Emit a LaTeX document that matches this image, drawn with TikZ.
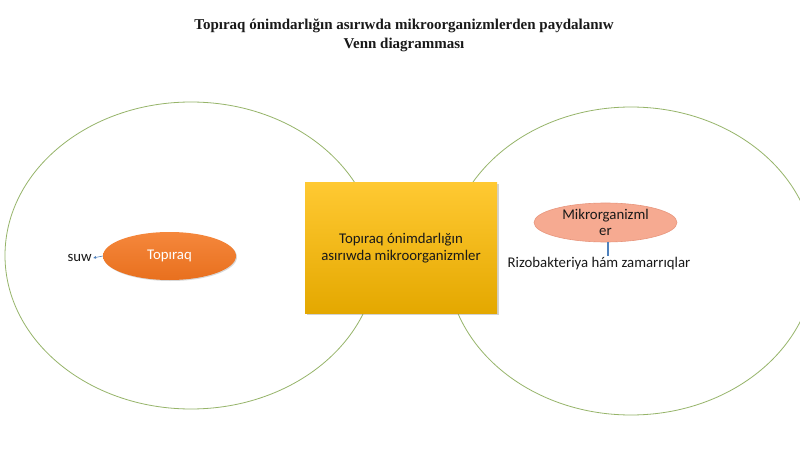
\documentclass[tikz,border=0pt]{standalone}
\usepackage{fontspec}
\setmainfont{Liberation Serif}
\newfontfamily\bodyfont{Carlito}
\usetikzlibrary{shapes.geometric,shadows,arrows.meta}
\definecolor{venn}{RGB}{150,180,105}
\definecolor{boxtop}{RGB}{255,201,50}
\definecolor{boxbot}{RGB}{228,168,0}
\definecolor{orangetop}{RGB}{245,135,60}
\definecolor{orangebot}{RGB}{232,112,30}
\definecolor{salmon}{RGB}{246,170,145}
\definecolor{salmonline}{RGB}{232,150,125}
\definecolor{linkblue}{RGB}{79,129,189}
\definecolor{ink}{RGB}{25,25,25}
\tikzset{
  vennset/.style={draw=venn, line width=0.8pt},
  titletext/.style={font=\fontsize{15}{18.5}\selectfont\bfseries, align=center, text=ink},
  bodytext/.style={font=\bodyfont\fontsize{14.8}{17}\selectfont, text=ink},
  centerbox/.style={rectangle, minimum width=192pt, minimum height=130pt, top color=boxtop, bottom color=boxbot, draw=none, drop shadow={shadow xshift=1.5pt, shadow yshift=-1.5pt, opacity=0.35}, align=center, bodytext},
  soilnode/.style={ellipse, minimum width=133pt, minimum height=48pt, inner sep=0pt, top color=orangetop, bottom color=orangebot, draw=none, drop shadow={shadow xshift=1pt, shadow yshift=-1pt, opacity=0.3}, bodytext, text=white},
  micronode/.style={ellipse, minimum width=143pt, minimum height=39pt, inner sep=0pt, fill=salmon, draw=salmonline, line width=0.6pt, align=center, bodytext, font=\bodyfont\fontsize{14.8}{15.5}\selectfont},
  plaintext/.style={bodytext, inner sep=1pt},
  linkline/.style={draw=linkblue, line width=1.6pt},
  smallarrow/.style={draw=linkblue, line width=0.6pt, -{Latex[length=3pt,width=3pt]}}
}
\begin{document}
\begin{tikzpicture}[x=1pt,y=-1pt]
\useasboundingbox (0,0) rectangle (800,449);
\fill[white] (0,0) rectangle (800,449);
\node[titletext] (title) at (404,35.5) {Topıraq ónimdarlığın asırıwda mikroorganizmlerden paydalanıw\\Venn diagramması};
\draw[vennset] (191,255.5) ellipse [x radius=186pt, y radius=153.5pt];
\draw[vennset] (631,261) ellipse [x radius=184pt, y radius=154pt];
\node[centerbox] (center) at (401,248) {Topıraq ónimdarlığın\\asırıwda mikroorganizmler};
\node[soilnode] (soil) at (169.5,256) {Topıraq};
\node[plaintext, anchor=east] (suw) at (93,258) {suw};
\draw[smallarrow] (soil.west) -- (suw.east);
\node[micronode] (micro) at (605.5,222.5) {Mikrorganizml\\er};
\node[plaintext] (rizo) at (599,264) {Rizobakteriya hám zamarrıqlar};
\draw[linkline] (micro.south -| 608,0) -- (rizo.north -| 608,0);
\end{tikzpicture}
\end{document}
